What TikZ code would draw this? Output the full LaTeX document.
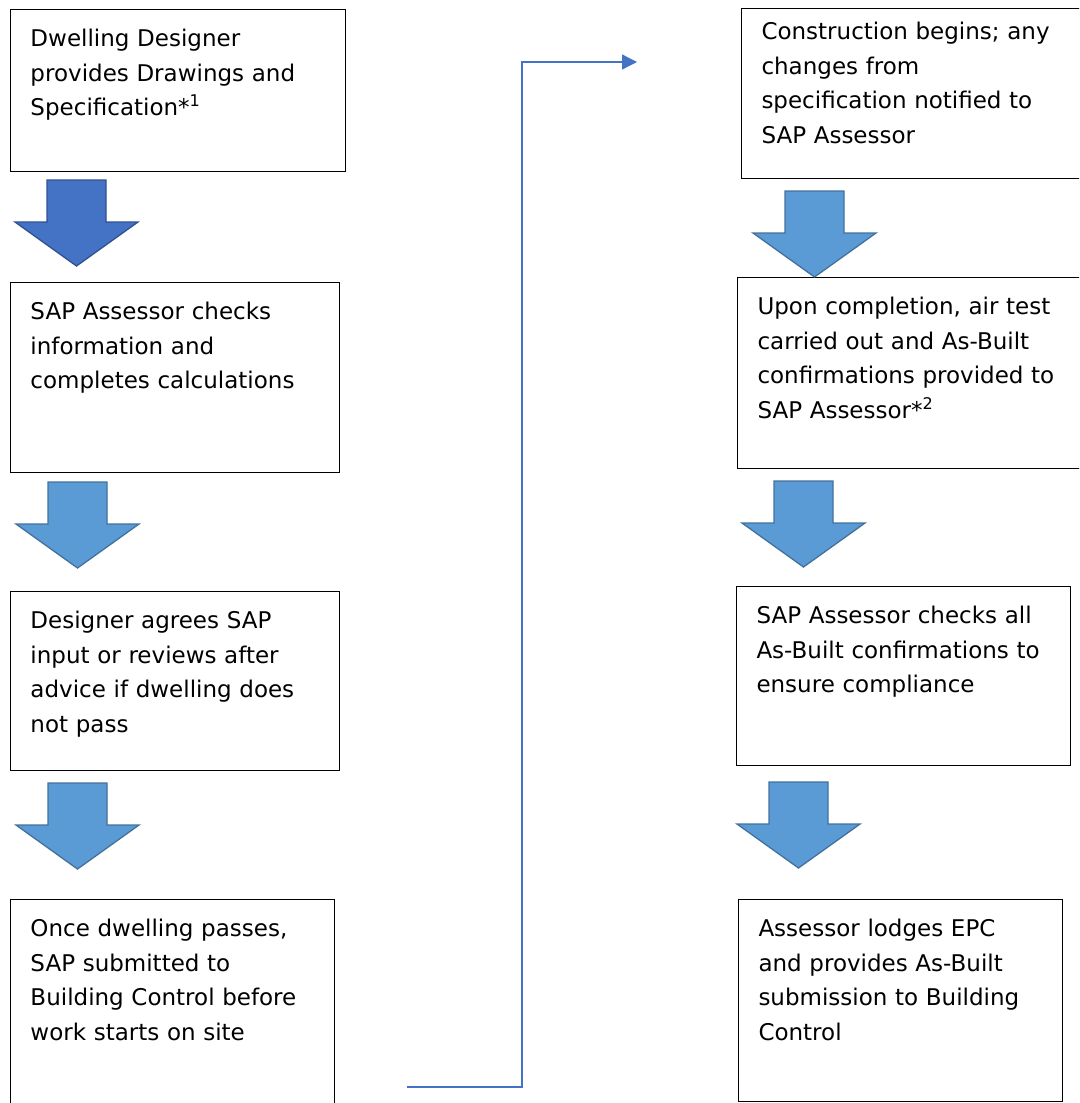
\documentclass[tikz,border=0pt]{standalone}
\usepackage{fontspec}
\setmainfont{DejaVu Sans}
\usetikzlibrary{arrows.meta}

\definecolor{darkblue}{HTML}{4472C4}
\definecolor{darkedge}{HTML}{2F528F}
\definecolor{lightblue}{HTML}{5B9BD5}
\definecolor{lightedge}{HTML}{41719C}

\begin{document}
\begin{tikzpicture}[x=1pt, y=-1pt,
    stepbox/.style={draw=black, line width=1pt, anchor=north west, align=left,
        inner xsep=20pt, inner ysep=13pt, text height=24.2pt,
        font=\fontsize{23}{34.6}\selectfont},
    blockarrow/.style={line width=1.3pt, line join=miter},
    link/.style={draw=darkblue, line width=1.3pt, -{Triangle[length=15pt, width=15pt]}}]

    \useasboundingbox (0,0) rectangle (1079,1103);
    \clip (0,0) rectangle (1079,1103);

    % Left column
    \node[stepbox, text width=295pt, text depth=111.8pt] (designer) at (10,9)
        {Dwelling Designer\\provides Drawings and\\Specification*\textsuperscript{1}};
    \node[stepbox, text width=289pt, text depth=139.8pt] (assessor) at (10,282)
        {SAP Assessor checks\\information and\\completes calculations};
    \node[stepbox, text width=289pt, text depth=128.8pt] (agree) at (10,591)
        {Designer agrees SAP\\input or reviews after\\advice if dwelling does\\not pass};
    \node[stepbox, text width=284pt, text depth=169.8pt] (submit) at (10,899)
        {Once dwelling passes,\\SAP submitted to\\Building Control before\\work starts on site};

    % Right column
    \node[stepbox, text width=310pt, text height=18.2pt, text depth=125.8pt] (construct) at (741,8)
        {Construction begins; any\\changes from\\specification notified to\\SAP Assessor};
    \node[stepbox, text width=314pt, text depth=140.8pt] (complete) at (737,277)
        {Upon completion, air test\\carried out and As-Built\\confirmations provided to\\SAP Assessor*\textsuperscript{2}};
    \node[stepbox, text width=294pt, text depth=128.8pt] (verify) at (736,586)
        {SAP Assessor checks all\\As-Built confirmations to\\ensure compliance};
    \node[stepbox, text width=284pt, text depth=151.8pt] (lodge) at (738,899)
        {Assessor lodges EPC\\and provides As-Built\\submission to Building\\Control};

    % Block arrows
    \foreach \x/\y/\fillc/\edgec in {
        47/180/darkblue/darkedge,
        48/482/lightblue/lightedge,
        48/783/lightblue/lightedge,
        785/191/lightblue/lightedge,
        774/481/lightblue/lightedge,
        769/782/lightblue/lightedge} {
        \draw[blockarrow, fill=\fillc, draw=\edgec]
            (\x,\y) -- ++(59,0) -- ++(0,42) -- ++(32,0) -- (\x+29.5,\y+86)
            -- (\x-32,\y+42) -- ++(32,0) -- cycle;
    }

    % Connector between columns
    \coordinate (cstart) at (407,1087);
    \coordinate (cend) at (637,62);
    \draw[link] (cstart) -- ++(115,0) |- (cend);
\end{tikzpicture}
\end{document}
